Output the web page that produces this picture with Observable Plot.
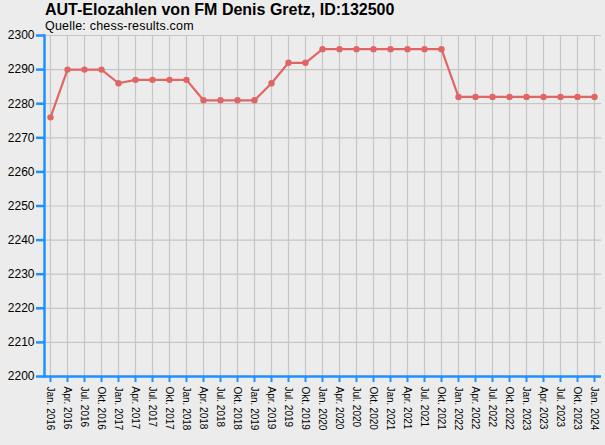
<!DOCTYPE html>
<html>
<head>
<meta charset="utf-8">
<script src="https://cdn.jsdelivr.net/npm/d3@7"></script>
<script src="https://cdn.jsdelivr.net/npm/@observablehq/plot@0.6"></script>
<style>
  html, body { margin: 0; padding: 0; background: #ececec; }
  #wrap { position: relative; width: 605px; height: 445px; overflow: hidden; }
  #title { position: absolute; left: 45px; top: 1px; font: bold 16px "Liberation Sans", Arial, sans-serif; color: #000; }
  #sub { position: absolute; left: 45px; top: 19px; font: 12.5px "Liberation Sans", Arial, sans-serif; letter-spacing: 0.2px; color: #000; }
  svg { display: block; }
</style>
</head>
<body>
<div id="wrap">
  <div id="chart"></div>
  <div id="title">AUT-Elozahlen von FM Denis Gretz, ID:132500</div>
  <div id="sub">Quelle: chess-results.com</div>
</div>
<script>
const labels = [
  "Jan. 2016","Apr. 2016","Jul. 2016","Okt. 2016",
  "Jan. 2017","Apr. 2017","Jul. 2017","Okt. 2017",
  "Jan. 2018","Apr. 2018","Jul. 2018","Okt. 2018",
  "Jan. 2019","Apr. 2019","Jul. 2019","Okt. 2019",
  "Jan. 2020","Apr. 2020","Jul. 2020","Okt. 2020",
  "Jan. 2021","Apr. 2021","Jul. 2021","Okt. 2021",
  "Jan. 2022","Apr. 2022","Jul. 2022","Okt. 2022",
  "Jan. 2023","Apr. 2023","Jul. 2023","Okt. 2023",
  "Jan. 2024"
];
const elo = [
  2276, 2290, 2290, 2290,
  2286, 2287, 2287, 2287,
  2287, 2281, 2281, 2281,
  2281, 2286, 2292, 2292,
  2296, 2296, 2296, 2296,
  2296, 2296, 2296, 2296,
  2282, 2282, 2282, 2282,
  2282, 2282, 2282, 2282,
  2282
];
const yTicks = [2200, 2210, 2220, 2230, 2240, 2250, 2260, 2270, 2280, 2290, 2300];

const data = labels.map((d, i) => ({date: d, elo: elo[i]}));
const blue = "#1e90ff";
const red = "#e06666";
const grid = "#c6c6c6";

const chart = Plot.plot({
  width: 605,
  height: 445,
  marginLeft: 44,
  marginRight: 4,
  marginTop: 35,
  marginBottom: 69,
  style: {background: "#ececec", fontFamily: "'Liberation Sans', Arial, sans-serif", color: "#000"},
  x: {type: "point", domain: labels, padding: 0, insetLeft: 5, insetRight: 7},
  y: {domain: [2200, 2300]},
  marks: [
    Plot.ruleY(yTicks, {stroke: grid, strokeWidth: 1.2}),
    Plot.ruleX(labels, {stroke: grid, strokeWidth: 1.2}),
    Plot.frame({anchor: "left", stroke: blue, strokeWidth: 2.5}),
    Plot.ruleY([2200], {stroke: blue, strokeWidth: 2.5}),
    Plot.axisY({ticks: yTicks, tickFormat: d => String(d), tickSize: 8, tickPadding: 2, stroke: blue, strokeWidth: 2.5, fill: "#000", fontSize: 12, label: null}),
    Plot.axisX({tickRotate: 90, tickSize: 6, tickPadding: 4, stroke: blue, strokeWidth: 2, fill: "#000", fontSize: 10, label: null}),
    Plot.line(data, {x: "date", y: "elo", stroke: red, strokeWidth: 2.2}),
    Plot.dot(data, {x: "date", y: "elo", fill: red, r: 3.2})
  ]
});
document.getElementById("chart").appendChild(chart);
</script>
</body>
</html>
